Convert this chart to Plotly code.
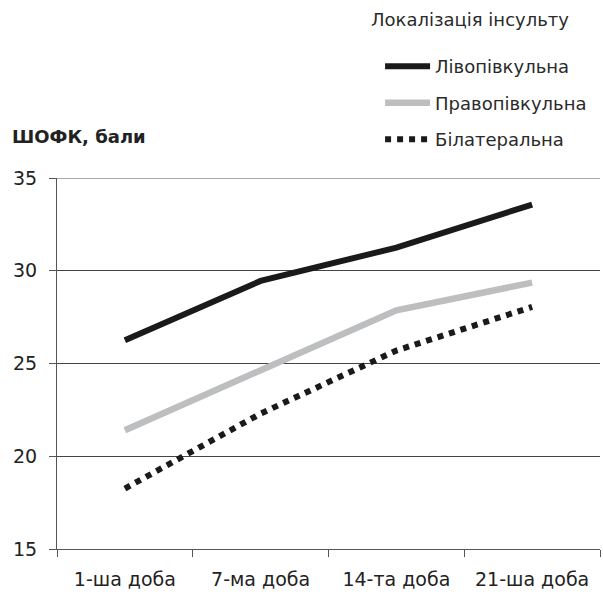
import plotly.graph_objects as go

categories = ["1-ша доба", "7-ма доба", "14-та доба", "21-ша доба"]
left_vals = [26.25, 29.45, 31.25, 33.57]
right_vals = [21.4, 24.65, 27.87, 29.36]
bilat_vals = [18.26, 22.3, 25.7, 28.05]
y_ticks = [15, 20, 25, 30, 35]

FONT = "DejaVu Sans, Liberation Sans, sans-serif"

fig = go.Figure()
fig.add_trace(go.Scatter(x=categories, y=left_vals, mode="lines", name="Лівопівкульна",
                         line=dict(color="#1a1a1a", width=6), legendgroup="a"))
fig.add_trace(go.Scatter(x=categories, y=right_vals, mode="lines", name="Правопівкульна",
                         line=dict(color="#bdbec0", width=6.5), legendgroup="b"))
fig.add_trace(go.Scatter(x=categories, y=bilat_vals, mode="lines", name="Білатеральна",
                         line=dict(color="#1a1a1a", width=6, dash="dot"), legendgroup="c"))

fig.update_layout(
    width=603, height=616,
    margin=dict(l=57, r=3, t=178, b=67, autoexpand=False),
    paper_bgcolor="white", plot_bgcolor="white",
    font=dict(family=FONT, color="#222"),
    showlegend=True,
    legend=dict(
        x=0.595, y=1.35, xanchor="left", yanchor="top",
        font=dict(size=18, color="#2a2a2a"),
        tracegroupgap=10,
        itemwidth=45,
        bgcolor="rgba(0,0,0,0)",
    ),
    xaxis=dict(
        type="category",
        showgrid=False,
        showline=True, linecolor="#555", linewidth=1,
        ticks="outside", tickson="boundaries", ticklen=7, tickcolor="#555",
        tickfont=dict(size=19, color="#222"),
        ticklabelstandoff=13,
        zeroline=False,
        range=[-0.5, 3.5],
    ),
    yaxis=dict(
        range=[15, 35],
        tickvals=y_ticks,
        showgrid=True, gridcolor="#444", gridwidth=1,
        showline=True, linecolor="#555", linewidth=1,
        ticks="outside", ticklen=7, tickcolor="#555",
        tickfont=dict(size=19, color="#222"),
        ticklabelstandoff=8,
        zeroline=False,
    ),
    shapes=[dict(type="line", xref="paper", yref="y", x0=0, x1=1, y0=35, y1=35,
                 line=dict(color="#555", width=1), layer="below")],
    annotations=[
        dict(
            text="<b>ШОФК, бали</b>", xref="paper", yref="paper",
            x=-0.087, y=1.111, xanchor="left", yanchor="middle",
            showarrow=False, font=dict(size=18, color="#222"),
        ),
        dict(
            text="Локалізація інсульту", xref="paper", yref="paper",
            x=0.575, y=1.426, xanchor="left", yanchor="middle",
            showarrow=False, font=dict(size=18, color="#2a2a2a"),
        ),
    ],
)

fig.write_html(
    "out.html",
    config={"displayModeBar": False},
    post_script="document.body.style.margin='0';document.body.style.padding='0';",
)
